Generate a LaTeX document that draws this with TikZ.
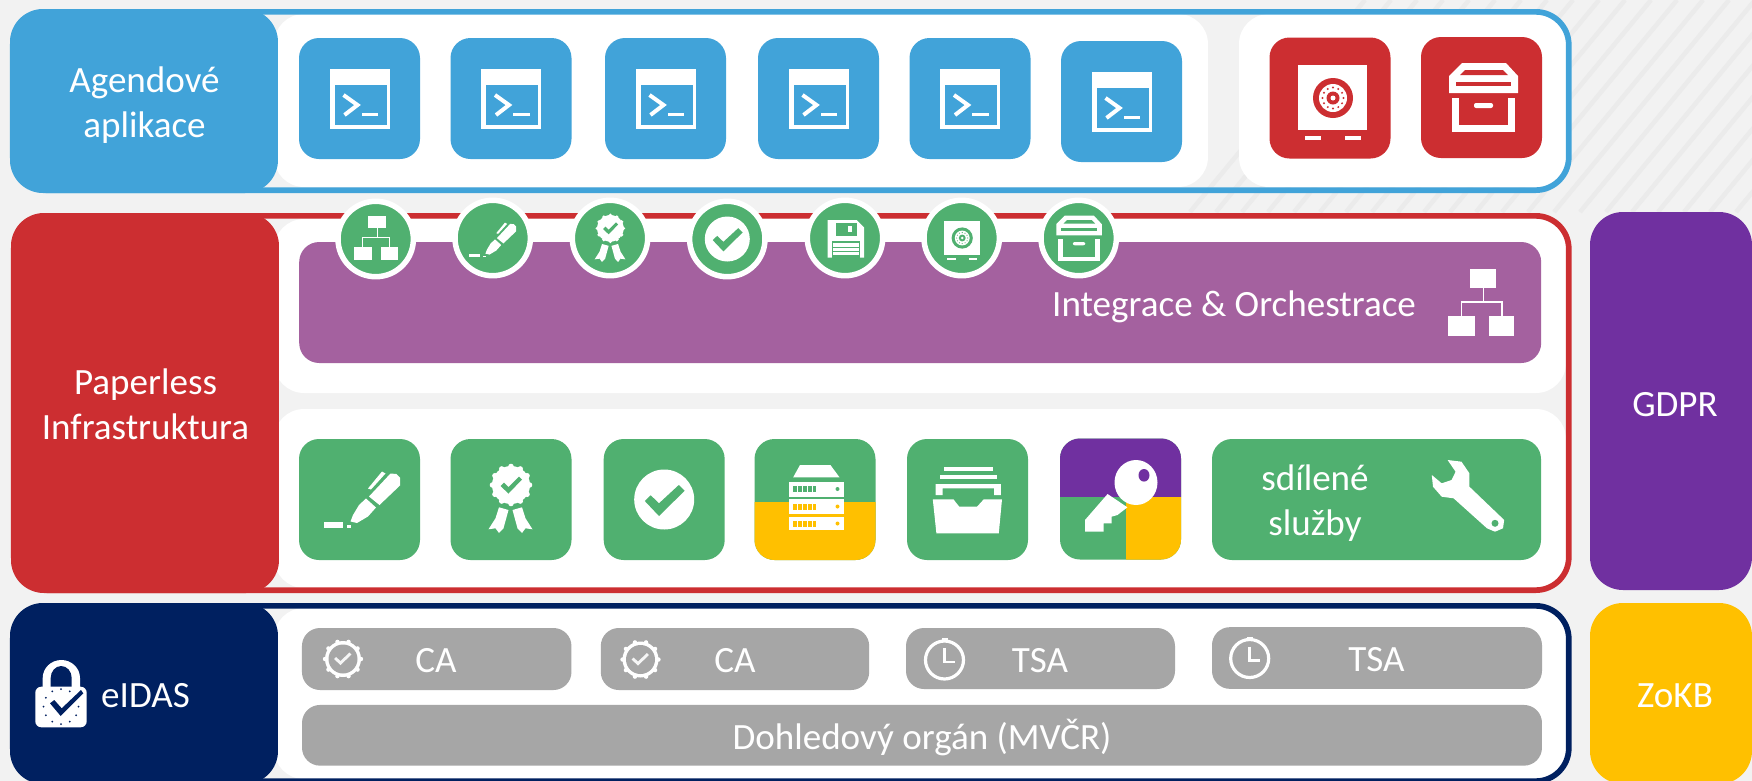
\documentclass[tikz,border=0pt]{standalone}
\usepackage{fontspec}
\setmainfont{Carlito}
\definecolor{pagegray}{HTML}{F2F2F2}
\definecolor{stripegray}{HTML}{EBEBEB}
\definecolor{tileblue}{HTML}{41A3D9}
\definecolor{tilered}{HTML}{CC2E31}
\definecolor{tilegreen}{HTML}{50B070}
\definecolor{tilenavy}{HTML}{002060}
\definecolor{tileviolet}{HTML}{7030A0}
\definecolor{tileyellow}{HTML}{FFC000}
\definecolor{tilegray}{HTML}{A6A6A6}
\definecolor{barmauve}{HTML}{A4619F}

\begin{document}
\begin{tikzpicture}[
  x=0.1mm, y=-0.1mm,
  font=\fontsize{10.55}{12.8}\selectfont,
  panel/.style={draw=#1, line width=.57mm, rounded corners=.33cm, outer sep=0pt},
  sheet/.style={fill=white, rounded corners=.3cm, outer sep=0pt},
  heading/.style={fill=#1, rounded corners=.33cm, outer sep=0pt, inner sep=0pt},
  tile/.style={fill=#1, rounded corners=.2cm, minimum width=1.21cm, minimum height=1.21cm, outer sep=0pt, inner sep=0pt},
  pill/.style={fill=tilegray, rounded corners=.18cm, outer sep=0pt, inner sep=0pt},
  badge/.style={circle, fill=tilegreen, draw=white, line width=.55mm, minimum size=.754cm, inner sep=0pt},
  caption/.style={text=white, align=center, inner sep=0pt},
  stripe/.style={stripegray, line width=.45mm},
  % icons, drawn round their centre
  term/.pic={
    \fill[white] (-30,-30) rectangle (30,30);
    \fill[#1] (-25,-14) rectangle (27,26);
    \draw[white, line width=.4mm] (-16,-3.5) -- (-2,6.5) -- (-15,16.5);
    \fill[white] (2,14) rectangle (18.5,17.5);
  },
  pen/.pic={
    \fill[white] (-35.5,22.5) rectangle (-17,28);
    \fill[white] (-13,25) rectangle (-8.5,28);
    \fill[white] (-9,22) -- (-6.5,15.5) -- (-.5,5.5) -- (6.5,-1) -- (16.5,8) -- (8.5,17) -- (-2.5,23.5) -- cycle;
    \fill[white] (9.5,-3) -- (31,-26) -- (37,-25.5) -- (40.5,-22) -- (40.5,-14) -- (20,5.5) -- cycle;
    \fill[white] (8.5,-11) -- (22.5,-28) -- (26,-26) -- (11.5,-10) -- cycle;
  },
  medal/.pic={
    \fill[white] (0,-14.5) circle (19);
    \foreach \a in {0,30,...,330}
      \fill[white] (0,-14.5) ++(\a:18.5) circle (2.8);
    \fill[#1] (-10.5,-13.5) -- (-7,-17) -- (-2.5,-12.5) -- (8,-23) -- (11,-20) -- (-2.5,-6) -- cycle;
    \fill[white] (-12,7.8) -- (-2.5,10.5) -- (-7.5,28.8) -- (-12,33.5) -- (-15.5,28.8) -- (-22.5,29.8) -- (-15.5,18.8) -- cycle;
    \fill[white] (11,7.8) -- (1.5,10.5) -- (6.5,28.8) -- (11,33.5) -- (14.5,28.8) -- (21.5,29.8) -- (14.5,18.8) -- cycle;
  },
  okmark/.pic={
    \fill[white] (0,0) circle (30);
    \fill[#1] (-19.4,1.5) -- (-13.5,-4.2) -- (-5.2,3.8) -- (14.6,-14.5) -- (20.5,-8.8) -- (-5.2,16.5) -- cycle;
  },
  archive/.pic={
    \fill[white] (-34,-22) -- (-21,-35) -- (23,-35) -- (35,-22) -- (35,-5) -- (-34,-5) -- cycle;
    \fill[#1] (-23,-23) -- (-18,-28) -- (20,-28) -- (25,-23) -- cycle;
    \fill[#1] (-27,-16) rectangle (28,-12);
    \fill[white] (-31,0) rectangle (32,34);
    \fill[#1] (-24,0) rectangle (25,27);
    \fill[white, rounded corners=.02cm] (-9,5) rectangle (10,10);
  },
  vault/.pic={
    \fill[white] (-34,-33) rectangle (35,32);
    \fill[white] (-27,38) rectangle (-11,42);
    \fill[white] (13,38) rectangle (29,42);
    \fill[#1] (1,0) circle (20);
    \fill[white] (1,0) circle (14);
    \foreach \a in {0,30,...,330}
      \fill[#1] (1,0) ++(\a:10.5) circle (1.1);
    \fill[#1] (1,0) circle (6.5);
    \fill[white] (1,0) circle (2.5);
  },
  floppy/.pic={
    \fill[white] (-17.3,-18) -- (11.7,-18) -- (19,-10.7) -- (19,19.7) -- (-17.3,19.7) -- cycle;
    \fill[#1] (-9.3,-14.7) rectangle (11.7,-2.3);
    \fill[white] (3.3,-12) rectangle (6.7,-5.7);
    \fill[#1] (-13,3) rectangle (15,19.7);
    \fill[white] (-11.7,5.3) rectangle (13.7,8.7);
    \fill[white] (-11.7,10.3) rectangle (13.7,13);
    \fill[white] (-11.7,14.3) rectangle (13.7,17);
  },
  orgchart/.pic={
    \fill[white] (-7.4,-23.3) rectangle (10,-10.7);
    \fill[white] (-21.7,8) rectangle (-4,21);
    \fill[white] (5.3,8) rectangle (22.3,21);
    \draw[white, line width=.13mm] (1.5,-10.7) -- (1.5,-1.3) (-13,8) -- (-13,-1.3) -- (14,-1.3) -- (14,8);
  },
  seal/.pic={
    \fill[white] (0,0) circle (18);
    \foreach \a in {0,36,...,324}
      \fill[white] (0,0) ++(\a:18) circle (2.2);
    \fill[tilegray] (0,0) circle (14.5);
    \fill[white!90!tilegray] (-9,0) -- (-7,-2) -- (-2.5,2) -- (6.5,-6.5) -- (8.5,-4.5) -- (-2.5,6) -- cycle;
  },
  clockface/.pic={
    \draw[white, line width=.32mm] (0,0) circle (19);
    \fill[white] (-3,-22) rectangle (3,-19);
    \draw[white, line width=.28mm] (0,-12) -- (0,2) -- (10,2);
  }
]
\useasboundingbox (0,0) rectangle (1752,781);
\clip (0,0) rectangle (1752,781);
\fill[pagegray] (0,0) rectangle (1752,781);

% Stripes
\foreach \s in {1190,1216,...,1760}
  \draw[stripe] (\s,212) -- ++(175,-212);

% Sheets
\node[sheet, minimum width=9.34cm, minimum height=1.73cm] (sheetapps) at (741,100.5) {};
\node[sheet, minimum width=3.27cm, minimum height=1.73cm] (sheetstore) at (1402.5,100.5) {};
\node[sheet, minimum width=12.92cm, minimum height=1.74cm] (sheetbus) at (920,306) {};
\node[sheet, minimum width=12.92cm, minimum height=1.79cm] (sheetcore) at (920,498.5) {};
\node[sheet, minimum width=12.92cm, minimum height=1.71cm] (sheettrust) at (920,693.5) {};

% Panels
\node[panel=tileblue, minimum width=15.56cm, minimum height=1.783cm] (P1) at (790.8,101) {};
\node[panel=tilered, minimum width=15.55cm, minimum height=3.743cm] (P2) at (791.3,403) {};
\node[panel=tilenavy, minimum width=15.56cm, minimum height=1.753cm] (P3) at (790.8,693.5) {};

% Headings
\node[heading=tileblue, minimum width=2.68cm, minimum height=1.84cm] (H1) at (144,101) {};
\node[caption] (H1text) at (144.5,105) {Agendové\\aplikace};
\node[heading=tilered, minimum width=2.68cm, minimum height=3.8cm] (H2) at (145,403) {};
\node[caption] (H2text) at (145.5,404.5) {Paperless\\Infrastruktura};
\node[heading=tilenavy, minimum width=2.68cm, minimum height=1.81cm] (H3) at (144,693.5) {};
\node[caption] (eidas) at (145.5,695.5) {eIDAS};
\node[heading=tileviolet, minimum width=1.62cm, minimum height=3.78cm] (gdpr) at (1671,401) {};
\node[caption] (gdprtext) at (1675,405) {GDPR};
\node[heading=tileyellow, minimum width=1.62cm, minimum height=1.81cm] (zokb) at (1671,693.5) {};
\node[caption] (zokbtext) at (1675,696) {ZoKB};

% Lock
\fill[white] (42.7,690) -- (42.7,678) arc[start angle=180, end angle=360, x radius=18.65, y radius=18] -- (80,690) -- cycle;
\fill[tilenavy] (50.7,690) -- (50.7,678) arc[start angle=180, end angle=360, x radius=10.5, y radius=12] -- (71.7,690) -- cycle;
\fill[white, rounded corners=.06cm] (35.3,686.7) rectangle (86.7,727.3);
\foreach \a in {0,30,...,330}
  \fill[tilenavy] (61,706.5) ++(\a:17.5) circle (1);
\fill[tilenavy] (50,703.3) -- (54.3,700) -- (61.7,708.3) -- (81,690) -- (83.3,693.3) -- (60.7,716) -- cycle;

% Applications
\node[tile=tileblue] (a1) at (359.5,98.5) {};
\node[tile=tileblue] (a2) at (511,98.5) {};
\node[tile=tileblue] (a3) at (665.5,98.5) {};
\node[tile=tileblue] (a4) at (818.5,98.5) {};
\node[tile=tileblue] (a5) at (970,98.5) {};
\node[tile=tileblue] (a6) at (1121.5,101.5) {};
\pic at (a1) {term=tileblue};
\pic at (a2) {term=tileblue};
\pic at (a3) {term=tileblue};
\pic at (a4) {term=tileblue};
\pic at (a5) {term=tileblue};
\pic at (a6) {term=tileblue};
\node[tile=tilered] (s1) at (1330,98) {};
\node[tile=tilered] (s2) at (1481.5,97.5) {};
\pic at (1332,98) {vault=tilered};
\pic at (1483,98) {archive=tilered};

% Integration bar
\node[fill=barmauve, rounded corners=.2cm, minimum width=12.42cm, minimum height=1.21cm, outer sep=0pt] (bar) at (920.2,302.5) {};
\node[caption] (bartext) at (1234,307) {Integrace \& Orchestrace};
\pic[scale=1.5] at (1481,304) {orgchart};

% Badges
\node[badge] (b1) at (375.7,239) {};
\node[badge] (b2) at (492.7,238) {};
\node[badge] (b3) at (610,238) {};
\node[badge] (b4) at (727.3,239) {};
\node[badge] (b5) at (845,238) {};
\node[badge] (b6) at (961.7,238) {};
\node[badge] (b7) at (1078.7,238) {};
\pic at (b1) {orgchart};
\pic[scale=.62] at (491,240) {pen};
\pic[scale=.7] at (610.4,238.5) {medal=tilegreen};
\pic[scale=.75] at (b4) {okmark=tilegreen};
\pic at (b5) {floppy=tilegreen};
\pic[scale=.53] at (b6) {vault=tilegreen};
\pic[scale=.66] at (1078.7,238.7) {archive=tilegreen};

% Core services
\node[tile=tilegreen] (c1) at (359.5,499.5) {};
\node[tile=tilegreen] (c2) at (511,499.5) {};
\node[tile=tilegreen] (c3) at (664.2,499.5) {};
\node[tile=tilegreen, path picture={\fill[tileyellow, sharp corners] (-62,2.2) rectangle (62,62);}] (c4) at (815,499.5) {};
\node[tile=tilegreen] (c5) at (967.5,499.5) {};
\node[tile=tilegreen, path picture={
    \fill[tileviolet, sharp corners] (-62,-62) rectangle (62,-2);
    \fill[tileyellow, sharp corners] (5.5,-2) rectangle (62,62);
  }] (c6) at (1120.5,499) {};
\node[tile=tilegreen, minimum width=3.29cm] (c7) at (1376.5,499.5) {};
\pic at (c1) {pen};
\pic at (c2) {medal=tilegreen};
\pic at (c3) {okmark=tilegreen};

% Server rack
\fill[white] (793.2,477.3) -- (800,465) -- (830.4,465) -- (839.5,477.3) -- cycle;
\fill[white] (789.3,481.7) rectangle (843.5,496.7);
\fill[white] (789.3,499) rectangle (843.5,514);
\fill[white] (789.3,516.7) rectangle (843.5,530);
\draw[tilegreen, line width=.06cm, dash pattern=on .35mm off .15mm] (793,489) -- (816,489);
\draw[tileyellow, line width=.06cm, dash pattern=on .35mm off .15mm] (793,506.5) -- (816,506.5);
\draw[tileyellow, line width=.06cm, dash pattern=on .35mm off .15mm] (793,523.5) -- (816,523.5);
\fill[tilegreen] (837.5,489) circle (2);
\fill[tileyellow] (837.5,506.5) circle (2);
\fill[tileyellow] (837.5,523.5) circle (2);

% Drawer
\fill[white] (943.5,466.7) rectangle (993.3,471);
\fill[white] (939.5,475) rectangle (996.9,479.3);
\fill[white] (935.6,495) -- (935.6,484) -- (1000.8,484) -- (1000.8,495) -- (994,495) -- (994,488.3) -- (942.7,488.3) -- (942.7,495) -- cycle;
\fill[white] (932.8,499.3) -- (953.4,499.3) -- (959.3,506.7) -- (977,506.7) -- (983.8,499.3) -- (1002,499.3) -- (998.8,533.3) -- (936.4,533.3) -- cycle;

% Key
\fill[white] (1136,482.5) ellipse (21.5 and 22.5);
\fill[tileviolet] (1144,475.3) ellipse (5.5 and 6.3);
\fill[white] (1107.6,494) -- (1127.4,507.3) -- (1117.5,515) -- (1111.5,516.7) -- (1111.5,523.3) -- (1103.6,523.3) -- (1103.6,531.7) -- (1085,531.7) -- (1085,520) -- cycle;

% Shared services
\node[caption] (shared) at (1315,503) {sdílené\\služby};
\fill[white] (1447.6,460) -- (1461.5,461.7) -- (1469.4,473.3) -- (1469.4,486.7) -- (1504.2,520) -- (1503,528.3) -- (1495,531.7) -- (1487,528.3) -- (1453.6,498.3) -- (1441.7,496.7) -- (1433,486.7) -- (1431.8,475) -- (1441.7,483.3) -- (1451.6,480) -- (1455.6,471.7) -- cycle;
\fill[tilegreen] (1495,523.3) circle (3.5);

% Trust services
\node[pill, minimum width=2.695cm, minimum height=.62cm] (ca1) at (436.7,659) {};
\node[pill, minimum width=2.684cm, minimum height=.62cm] (ca2) at (735,659) {};
\node[pill, minimum width=2.69cm, minimum height=.61cm] (tsa1) at (1040.5,658.5) {};
\node[pill, minimum width=3.30cm, minimum height=.617cm] (tsa2) at (1377,658) {};
\node[pill, minimum width=12.40cm, minimum height=.607cm] (super) at (922,735.3) {};
\node[caption] (catext1) at (436,661) {CA};
\node[caption] (catext2) at (735,661) {CA};
\node[caption] (tsatext1) at (1040,661) {TSA};
\node[caption] (tsatext2) at (1376.5,660) {TSA};
\node[caption] (supertext) at (922,738) {Dohledový orgán (MVČR)};
\pic at (343,659) {seal};
\pic at (640.5,659.5) {seal};
\pic at (944.5,660) {clockface};
\pic at (1249.7,658.5) {clockface};
\end{tikzpicture}
\end{document}
